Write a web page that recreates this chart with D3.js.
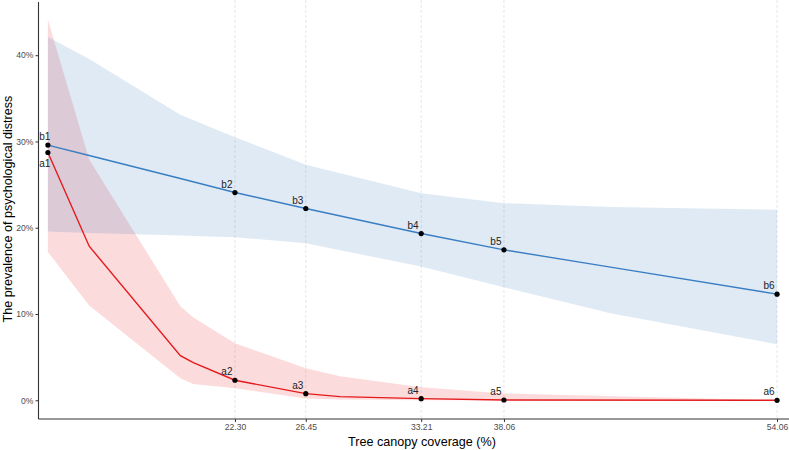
<!DOCTYPE html>
<html>
<head>
<meta charset="utf-8">
<script src="https://cdn.jsdelivr.net/npm/d3@7/dist/d3.min.js"></script>
<style>
  html, body { margin: 0; padding: 0; background: #fff; }
  svg { display: block; font-family: "Liberation Sans", Arial, sans-serif; }
</style>
</head>
<body>
<svg id="chart" width="789" height="450"></svg>
<script>
// ---- data ----
const xBreaks = [22.30, 26.45, 33.21, 38.06, 54.06];
const yTicks = [0, 10, 20, 30, 40];

// labelled points (x = tree canopy coverage %, y = prevalence %)
const pointX = [11.34, 22.30, 26.45, 33.21, 38.06, 54.06];
const bValues = [29.58, 24.08, 22.23, 19.33, 17.44, 12.30];
const aValues = [28.72, 2.32, 0.77, 0.19, 0.03, 0.0];
const bLabels = ["b1", "b2", "b3", "b4", "b5", "b6"];
const aLabels = ["a1", "a2", "a3", "a4", "a5", "a6"];

// red curve (a) with confidence band
const redX     = [11.34, 13.76, 19.10, 19.86, 22.30, 26.45, 28.45, 33.21, 38.06, 54.06];
const redLine  = [28.72, 17.86, 5.17, 4.36, 2.32, 0.77, 0.42, 0.19, 0.03, 0.0];
const redUpper = [44.1, 27.9, 10.9, 9.6, 6.6, 3.7, 2.8, 1.5, 0.8, 0.0];
const redLower = [17.2, 11.0, 2.55, 1.9, 1.4, 0.2, 0.1, 0.0, 0.0, 0.0];

// blue curve (b) with confidence band
const blueX     = [11.34, 13.76, 19.10, 22.30, 26.45, 33.21, 38.06, 44.30, 54.06];
const blueLine  = [29.58, 28.37, 25.71, 24.08, 22.23, 19.33, 17.44, 15.43, 12.30];
const blueUpper = [42.1, 39.55, 33.1, 30.5, 27.3, 24.0, 22.85, 22.4, 22.1];
const blueLower = [19.56, 19.4, 19.1, 18.9, 18.2, 15.5, 13.1, 10.1, 6.5];

// ---- layout ----
const svg = d3.select("#chart");
const pLeft = 38.5, pRight = 789, pTop = 0, pBottom = 419;

const x = d3.scaleLinear().domain([10.79, 54.76]).range([pLeft, pRight]);
const y = d3.scaleLinear().domain([-2.17, 46.4]).range([pBottom, pTop]);

// vertical gridlines at breaks
svg.append("g").selectAll("line").data(xBreaks).join("line")
  .attr("x1", d => x(d)).attr("x2", d => x(d))
  .attr("y1", pTop).attr("y2", pBottom)
  .attr("stroke", "#e0e0e0").attr("stroke-width", 0.8)
  .attr("stroke-dasharray", "3,2");

const zip = (xs, lo, hi) => xs.map((v, i) => ({x: v, lo: lo[i], hi: hi[i]}));
const area = d3.area().x(d => x(d.x)).y0(d => y(d.lo)).y1(d => y(d.hi));
const line = d3.line().x(d => x(d.x)).y(d => y(d.y));

// bands
svg.append("path").datum(zip(redX, redLower, redUpper))
  .attr("d", area).attr("fill", "#f0282d").attr("fill-opacity", 0.17);
svg.append("path").datum(zip(blueX, blueLower, blueUpper))
  .attr("d", area).attr("fill", "#3b7fc0").attr("fill-opacity", 0.16);

// lines
svg.append("path").datum(redX.map((v, i) => ({x: v, y: redLine[i]})))
  .attr("d", line).attr("fill", "none").attr("stroke", "#e41a1c").attr("stroke-width", 1.4);
svg.append("path").datum(blueX.map((v, i) => ({x: v, y: blueLine[i]})))
  .attr("d", line).attr("fill", "none").attr("stroke", "#3a7ec2").attr("stroke-width", 1.4);

// points
const pts = [];
pointX.forEach((v, i) => {
  pts.push({x: v, y: bValues[i], label: bLabels[i], below: false, first: i === 0});
  pts.push({x: v, y: aValues[i], label: aLabels[i], below: i === 0, first: i === 0});
});
svg.append("g").selectAll("circle").data(pts).join("circle")
  .attr("cx", d => x(d.x)).attr("cy", d => y(d.y)).attr("r", 2.6).attr("fill", "#000");

svg.append("g").selectAll("text").data(pts).join("text")
  .attr("x", d => x(d.x) + (d.first ? -3 : -2.5))
  .attr("y", d => y(d.y) + (d.below ? 14 : -5))
  .attr("text-anchor", d => d.first ? "middle" : "end")
  .attr("font-size", 10).attr("fill", "#222")
  .text(d => d.label);

// axes
const xAxis = d3.axisBottom(x).tickValues(xBreaks).tickFormat(d3.format(".2f")).tickSize(3).tickPadding(2);
const gx = svg.append("g").attr("transform", `translate(0,${pBottom})`).call(xAxis);
gx.select(".domain").attr("stroke", "#333").attr("stroke-width", 1.1).attr("d", `M${pLeft},0H${pRight}`);
gx.selectAll(".tick line").attr("stroke", "#333");
gx.selectAll(".tick text").attr("fill", "#4d4d4d").attr("font-size", 8.6)
  .attr("font-family", "Liberation Sans, Arial, sans-serif");

const yAxis = d3.axisLeft(y).tickValues(yTicks).tickFormat(d => d + "%").tickSize(3).tickPadding(2);
const gy = svg.append("g").attr("transform", `translate(${pLeft},0)`).call(yAxis);
gy.select(".domain").attr("stroke", "#333").attr("stroke-width", 1.1).attr("d", `M0,${pTop + 2}V${pBottom}`);
gy.selectAll(".tick line").attr("stroke", "#333");
gy.selectAll(".tick text").attr("fill", "#4d4d4d").attr("font-size", 8.6)
  .attr("font-family", "Liberation Sans, Arial, sans-serif");

// titles
svg.append("text").attr("x", 422).attr("y", 446)
  .attr("text-anchor", "middle").attr("font-size", 12.6).attr("fill", "#000")
  .text("Tree canopy coverage (%)");
svg.append("text").attr("transform", `translate(12,209) rotate(-90)`)
  .attr("text-anchor", "middle").attr("font-size", 12.6).attr("fill", "#000")
  .text("The prevalence of psychological distress");
</script>
</body>
</html>
